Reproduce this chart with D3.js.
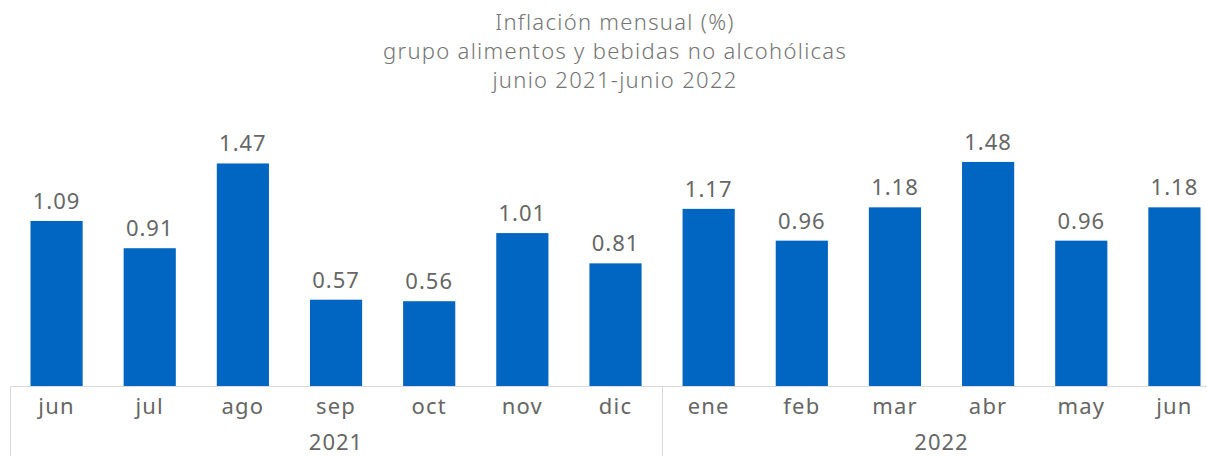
<!DOCTYPE html>
<html>
<head>
<meta charset="utf-8">
<script src="https://cdn.jsdelivr.net/npm/d3@7"></script>
<style>
  body { margin: 0; background: #fff; }
  svg { display: block; font-family: "Noto Sans", "Open Sans", sans-serif; }
</style>
</head>
<body>
<div id="chart"></div>
<script>
// datos
const meses = ["jun", "jul", "ago", "sep", "oct", "nov", "dic", "ene", "feb", "mar", "abr", "may", "jun"];
const anios = ["2021", "2021", "2021", "2021", "2021", "2021", "2021", "2022", "2022", "2022", "2022", "2022", "2022"];
const valores = [1.09, 0.91, 1.47, 0.57, 0.56, 1.01, 0.81, 1.17, 0.96, 1.18, 1.48, 0.96, 1.18];
const titulo = ["Inflación mensual (%)", "grupo alimentos y bebidas no alcohólicas", "junio 2021-junio 2022"];

var width = 1207;
var height = 456;
var svg = d3.select("#chart").append("svg").attr("width", width).attr("height", height);

var gris = "#666666";
var lineaGris = "#d9d9d9";
var baseY = 386;

// escalas
var idx = d3.range(meses.length);
var xScale = d3.scaleBand().domain(idx).range([10, 1221]).paddingInner(0.44).paddingOuter(0.22);
var yScale = d3.scaleLinear().domain([0, 1.6]).range([baseY, baseY - 1.6 * 151.4]);

// titulo
svg.append("g").selectAll("text")
  .data(titulo)
  .enter()
  .append("text")
  .attr("x", 615)
  .attr("y", (d, i) => 30 + i * 29)
  .attr("text-anchor", "middle")
  .attr("font-size", "22px")
  .attr("font-weight", 300)
  .attr("letter-spacing", "1.3px")
  .attr("fill", "#747474")
  .text(d => d);

// barras
svg.append("g").selectAll("rect")
  .data(valores)
  .enter()
  .append("rect")
  .attr("x", (d, i) => xScale(i))
  .attr("y", d => yScale(d))
  .attr("width", xScale.bandwidth())
  .attr("height", d => yScale(0) - yScale(d))
  .attr("fill", "#0066c1");

// etiquetas de valores
svg.append("g").selectAll("text")
  .data(valores)
  .enter()
  .append("text")
  .attr("x", (d, i) => xScale(i) + xScale.bandwidth() / 2)
  .attr("y", d => yScale(d) - 12)
  .attr("text-anchor", "middle")
  .attr("font-size", "22px")
  .attr("letter-spacing", "1px")
  .attr("fill", gris)
  .text(d => d.toFixed(2));

// eje x (meses)
var xAxis = d3.axisBottom(xScale).tickSize(0).tickPadding(12).tickFormat(i => meses[i]);
var gx = svg.append("g")
  .attr("transform", "translate(0," + baseY + ")")
  .call(xAxis);
gx.select(".domain").attr("stroke", lineaGris).attr("d", "M10,0.5H1221");
gx.selectAll("text")
  .attr("font-size", "22px")
  .attr("letter-spacing", "1.2px")
  .attr("fill", gris)
  .attr("font-family", "'Noto Sans', 'Open Sans', sans-serif");

// grupos por año
var grupos = d3.groups(idx, i => anios[i]).map(([anio, is]) => {
  var x0 = xScale(d3.min(is)) - xScale.step() * xScale.paddingInner() / 2;
  var x1 = xScale(d3.max(is)) + xScale.bandwidth() + xScale.step() * xScale.paddingInner() / 2;
  if (d3.min(is) === 0) x0 = 10;
  return { anio, x0, x1 };
});

svg.append("g").selectAll("line")
  .data(grupos)
  .enter()
  .append("line")
  .attr("x1", d => Math.round(d.x0) + 0.5)
  .attr("x2", d => Math.round(d.x0) + 0.5)
  .attr("y1", baseY)
  .attr("y2", height)
  .attr("stroke", lineaGris);

svg.append("g").selectAll("text")
  .data(grupos)
  .enter()
  .append("text")
  .attr("x", d => (d.x0 + d.x1) / 2)
  .attr("y", 450)
  .attr("text-anchor", "middle")
  .attr("font-size", "22px")
  .attr("letter-spacing", "1px")
  .attr("fill", gris)
  .text(d => d.anio);
</script>
</body>
</html>
